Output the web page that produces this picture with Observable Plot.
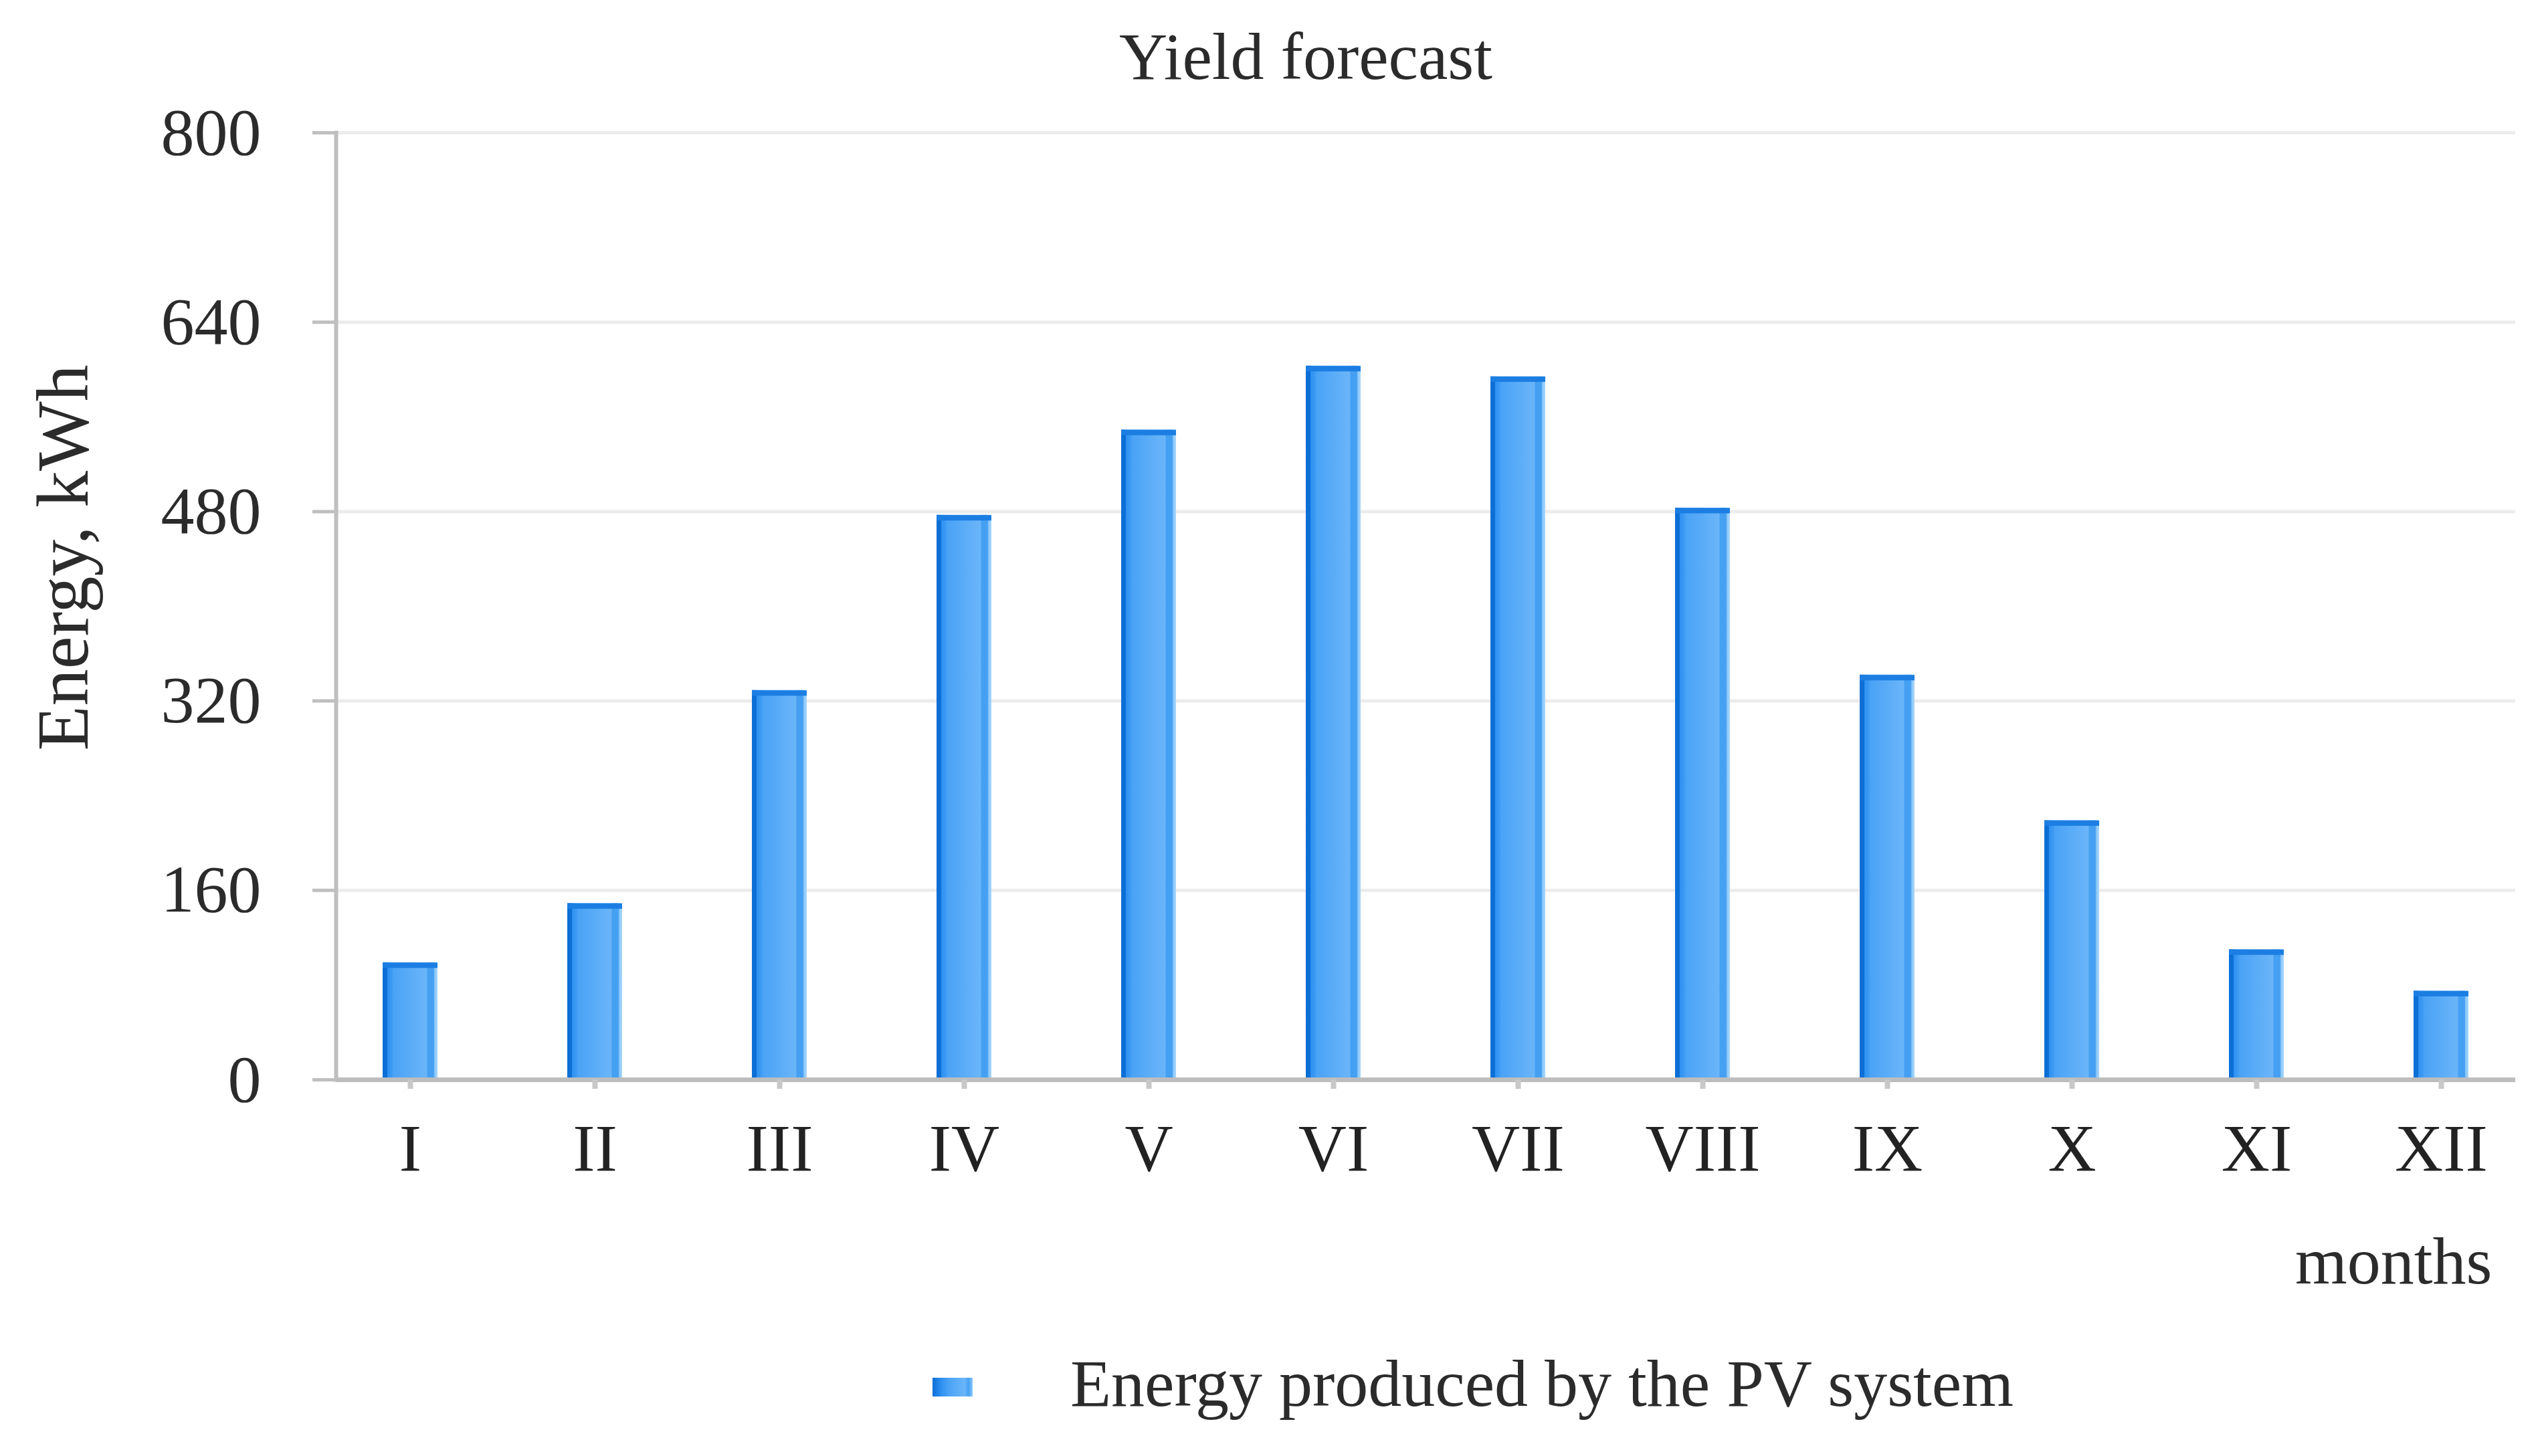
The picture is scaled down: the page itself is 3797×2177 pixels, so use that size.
<!DOCTYPE html>
<html><head><meta charset="utf-8">
<script src="https://cdn.jsdelivr.net/npm/d3@7"></script>
<script src="https://cdn.jsdelivr.net/npm/@observablehq/plot@0.6"></script>
<style>
html,body{margin:0;padding:0;background:#fff;}
body{width:3797px;height:2177px;overflow:hidden;font-family:"Liberation Serif",serif;color:#2b2b2b;}
#title{height:135px;box-sizing:border-box;padding-top:35px;padding-left:107px;text-align:center;font-size:100px;line-height:100px;white-space:nowrap;}
#legend{position:relative;height:217px;}
#legend .sw{position:absolute;left:1394px;top:100px;width:60px;height:28px;
  background:linear-gradient(to right,#0b6fd6 0%,#2a8ef0 20%,#4aa3f6 40%,#6ab5f9 80%,#45a0f2 90%,#8cc9fb 100%);}
#legend .lt{position:absolute;left:1600px;top:59px;font-size:100px;line-height:100px;white-space:nowrap;}
</style></head><body>
<div id="title">Yield forecast</div>
<div id="chart"></div>
<div id="legend"><div class="sw"></div><div class="lt">Energy produced by the PV system</div></div>
<script>
const months = ["I","II","III","IV","V","VI","VII","VIII","IX","X","XI","XII"];
const energy = [99,149,329,477,549,603,594,483,342,219,110,75];
const yTicks = [0,160,320,480,640,800];
const seriesName = "Energy produced by the PV system";
const data = months.map((m,i)=>({month:m, energy:energy[i]}));

const svg = Plot.plot({
  width:3797, height:1825,
  marginTop:63, marginLeft:502, marginRight:37, marginBottom:346,
  style:{fontFamily:"Liberation Serif, serif", fontSize:"100px", color:"#2b2b2b", background:"#fff"},
  x:{domain:months, paddingInner:0.703, paddingOuter:0.25},
  y:{domain:[0,800]},
  marks:[
    Plot.gridY(yTicks, {stroke:"#ececec", strokeOpacity:1, strokeWidth:5}),
    Plot.barY(data, {x:"month", y:"energy", fill:"url(#barGrad)"}),
    Plot.tickY(data, {x:"month", y:"energy", stroke:"#1c7ee2", strokeWidth:8, dy:4}),
    Plot.frame({anchor:"left", stroke:"#bfbfbf", strokeWidth:6}),
    Plot.ruleY([0], {stroke:"#bdbdbd", strokeWidth:7}),
    Plot.axisY(yTicks, {tickSize:35, tickPadding:77, stroke:"#bfbfbf", strokeWidth:5, label:null, fill:"#2b2b2b"}),
    Plot.axisX({tickSize:14, tickPadding:50, label:null, stroke:"#c8c8c8", strokeWidth:8, fill:"#222"}),
    Plot.text(["months"], {frameAnchor:"bottom-right", textAnchor:"end", lineAnchor:"bottom", dx:-35, dy:304, fontSize:100, fill:"#2b2b2b"}),
    Plot.text(["Energy, kWh"], {frameAnchor:"left", rotate:-90, dx:-407, dy:216, fontSize:110, fill:"#2b2b2b"})
  ]
});
const ns = "http://www.w3.org/2000/svg";
const defs = document.createElementNS(ns, "defs");
defs.innerHTML = `<linearGradient id="barGrad" x1="0" x2="1" y1="0" y2="0">
  <stop offset="0" stop-color="#0b6fd6"/><stop offset="0.09" stop-color="#0b6fd6"/>
  <stop offset="0.09" stop-color="#2e90f0"/><stop offset="0.17" stop-color="#3d9bf4"/>
  <stop offset="0.2" stop-color="#4aa3f6"/><stop offset="0.8" stop-color="#6ab5f9"/>
  <stop offset="0.82" stop-color="#45a0f2"/><stop offset="0.93" stop-color="#45a0f2"/>
  <stop offset="0.95" stop-color="#8cc9fb"/><stop offset="1" stop-color="#a9d6fc"/>
</linearGradient>`;
svg.insertBefore(defs, svg.firstChild);
document.getElementById("chart").appendChild(svg);
document.querySelector("#legend .lt").textContent = seriesName;
</script>
</body></html>
